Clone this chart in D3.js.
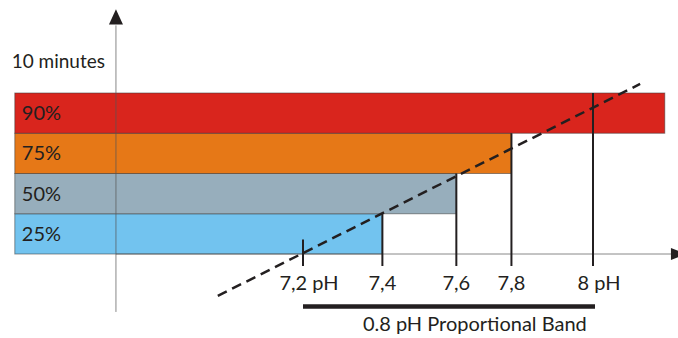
<!DOCTYPE html>
<html>
<head>
<meta charset="utf-8">
<script src="https://cdn.jsdelivr.net/npm/d3@7/dist/d3.min.js"></script>
<style>
  html, body { margin: 0; padding: 0; background: #fff; }
  svg { display: block; }
  text { font-family: Lato, "Open Sans", sans-serif; fill: #231f20; }
</style>
</head>
<body>
<svg id="chart" width="678" height="338"></svg>
<script>
// ---- data ----
const bandLabels = ["25%", "50%", "75%", "90%"];
const bandLow = [0, 25, 50, 75];          // % of 10 minutes
const bandHigh = [25, 50, 75, 100];
const bandEndPH = [7.419, 7.623, 7.775, 8.198];
const bandStartPH = 6.405;

const tickLabels = ["7,2 pH", "7,4", "7,6", "7,8", "8 pH"];
const tickPH = [7.2, 7.419, 7.623, 7.775, 8.0];
const tickTopPct = [9, 25, 50, 75, 100];

const proportionalBand = [7.2, 8.0];
const proportionalLabel = "0.8 pH Proportional Band";
const timeLabel = "10 minutes";

const dashedPH = [6.965, 8.13];
const dashedPct = [-26, 105.6];

const axisPH = 6.684;

// ---- scales ----
const svg = d3.select("#chart");
const x = d3.scaleLinear().domain([7.2, 8.0]).range([303, 593]);
const y = d3.scaleLinear().domain([0, 100]).range([254, 93]);
const color = d3.scaleOrdinal().domain(bandLabels)
  .range(["#72c3ef", "#97aebc", "#e67817", "#d9251d"]);

const bands = bandLabels.map((l, i) => ({ label: l, lo: bandLow[i], hi: bandHigh[i], end: bandEndPH[i] }));

// bars
svg.append("g").selectAll("rect").data(bands).join("rect")
  .attr("x", x(bandStartPH))
  .attr("y", d => y(d.hi))
  .attr("width", d => x(d.end) - x(bandStartPH))
  .attr("height", d => y(d.lo) - y(d.hi))
  .attr("fill", d => color(d.label))
  .attr("stroke", "rgba(60,60,60,0.55)")
  .attr("stroke-width", 1);

// bar labels
svg.append("g").selectAll("text").data(bands).join("text")
  .attr("x", x(bandStartPH) + 7)
  .attr("y", d => (y(d.lo) + y(d.hi)) / 2 + 7)
  .attr("font-size", 20)
  .text(d => d.label);

// axes
const axisX = x(axisPH);
svg.append("line")
  .attr("x1", axisX).attr("x2", axisX)
  .attr("y1", y(-36)).attr("y2", y(142))
  .attr("stroke", "#555").attr("stroke-opacity", 0.7).attr("stroke-width", 1);
svg.append("path")
  .attr("d", d3.line()([[axisX - 7, y(142.5)], [axisX, y(152)], [axisX + 7, y(142.5)]]) + "Z")
  .attr("fill", "#231f20");

svg.append("line")
  .attr("x1", axisX).attr("x2", x(8.22))
  .attr("y1", y(0)).attr("y2", y(0))
  .attr("stroke", "#555").attr("stroke-opacity", 0.7).attr("stroke-width", 1);
svg.append("path")
  .attr("d", d3.line()([[x(8.215), y(0) - 6], [x(8.257), y(0)], [x(8.215), y(0) + 6]]) + "Z")
  .attr("fill", "#231f20");

// time label
svg.append("text")
  .attr("x", axisX - 11).attr("y", 67.5)
  .attr("text-anchor", "end")
  .attr("font-size", 19)
  .text(timeLabel);

// dashed line
svg.append("line")
  .attr("x1", x(dashedPH[0])).attr("y1", y(dashedPct[0]))
  .attr("x2", x(dashedPH[1])).attr("y2", y(dashedPct[1]))
  .attr("stroke", "#231f20").attr("stroke-width", 2.5)
  .attr("stroke-dasharray", "10,6");

// vertical pH lines
const ticks = tickLabels.map((l, i) => ({ label: l, ph: tickPH[i], top: tickTopPct[i] }));
svg.append("g").selectAll("line").data(ticks).join("line")
  .attr("x1", d => x(d.ph)).attr("x2", d => x(d.ph))
  .attr("y1", d => y(d.top)).attr("y2", y(0) + 12)
  .attr("stroke", "#231f20").attr("stroke-width", 2);

svg.append("g").selectAll("text").data(ticks).join("text")
  .attr("x", d => x(d.ph) + (d.label.includes("pH") ? 6 : 0))
  .attr("y", 290)
  .attr("text-anchor", "middle")
  .attr("font-size", 20)
  .text(d => d.label);

// proportional band
svg.append("line")
  .attr("x1", x(proportionalBand[0])).attr("x2", x(proportionalBand[1]) + 2)
  .attr("y1", 306.5).attr("y2", 306.5)
  .attr("stroke", "#231f20").attr("stroke-width", 4.5);
svg.append("text")
  .attr("x", x(7.674)).attr("y", 331)
  .attr("text-anchor", "middle")
  .attr("font-size", 20)
  .text(proportionalLabel);
</script>
</body>
</html>
